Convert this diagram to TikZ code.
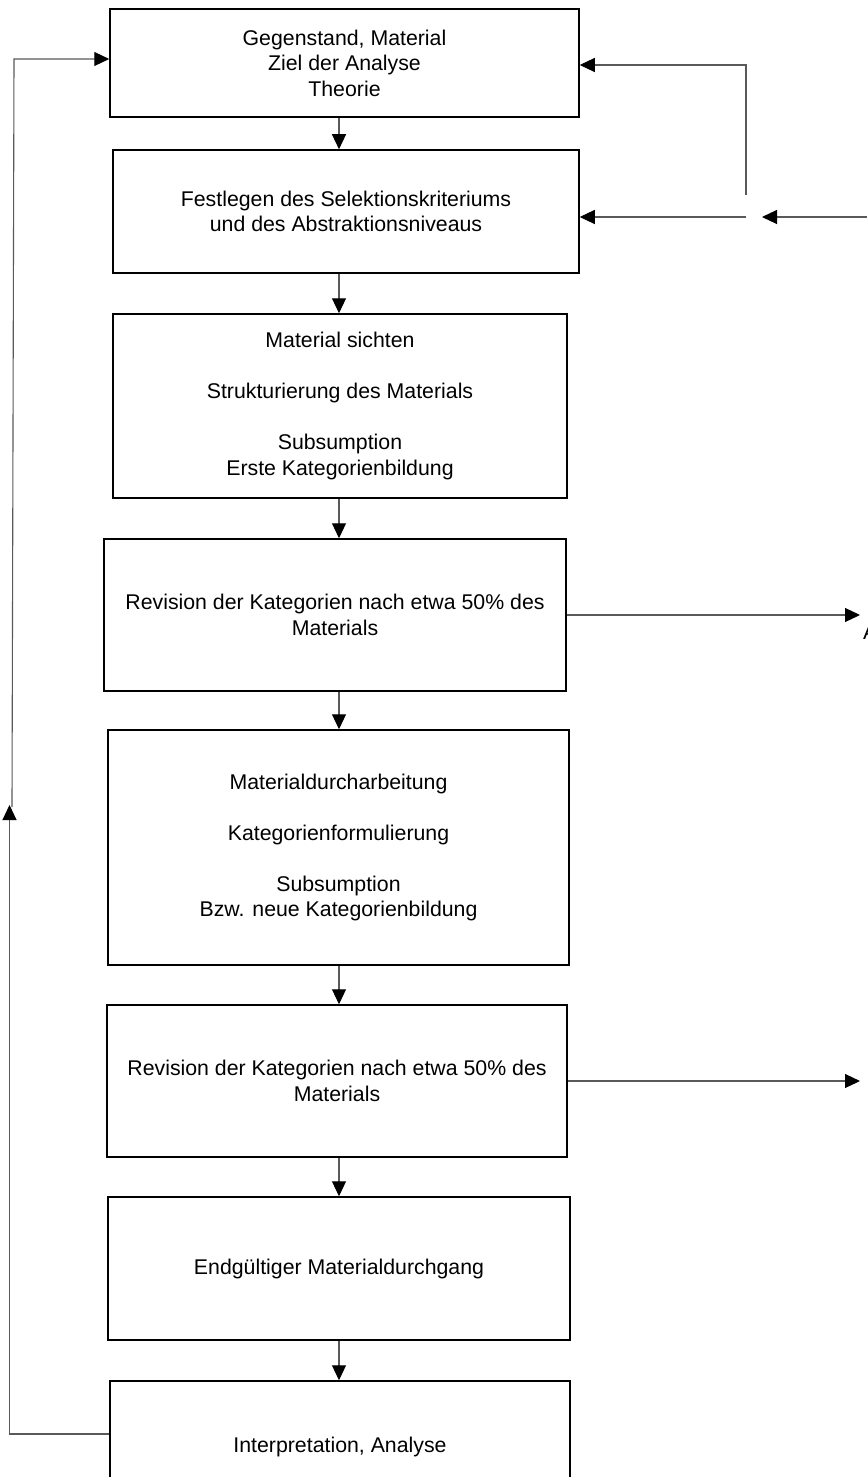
\documentclass[tikz,border=0pt]{standalone}
\usepackage{fontspec}
\setmainfont{Liberation Sans}
\usetikzlibrary{arrows.meta}
\begin{document}
\begin{tikzpicture}[x=1pt,y=-1pt,
  box/.style={draw=black, line width=1.5pt, inner sep=0pt, align=center,
              font=\fontsize{21.3}{25.5}\selectfont},
  link/.style={draw=black!65, line width=1.1pt},
  arr/.style={link, -{Triangle[length=15pt,width=14pt,color=black]}},
]
\useasboundingbox (0,0) rectangle (867,1477);
\clip (0,0) rectangle (867,1477);

% process steps
\node[box, minimum width=469pt, minimum height=108pt] (b1) at (344.5,63)
  {Gegenstand, Material\\Ziel der Analyse\\Theorie};
\node[box, minimum width=466pt, minimum height=123pt] (b2) at (346,211.5)
  {Festlegen des Selektionskriteriums\\und des Abstraktionsniveaus};
\node[box, minimum width=454pt, minimum height=184pt] (b3) at (340,406)
  {Material sichten\\[25.5pt]Strukturierung des Materials\\[25.5pt]Subsumption\\Erste Kategorienbildung};
\node[box, minimum width=462pt, minimum height=152pt] (b4) at (335,615)
  {Revision der Kategorien nach etwa 50\% des\\Materials};
\node[box, minimum width=461pt, minimum height=235pt] (b5) at (338.5,847.5)
  {Materialdurcharbeitung\\[25.5pt]Kategorienformulierung\\[25.5pt]Subsumption\\Bzw. neue Kategorienbildung};
\node[box, minimum width=460pt, minimum height=152pt] (b6) at (337,1081)
  {Revision der Kategorien nach etwa 50\% des\\Materials};
\node[box, minimum width=462pt, minimum height=143pt] (b7) at (339,1268.5)
  {Endgültiger Materialdurchgang};
\node[box, minimum width=460pt, minimum height=132pt] (b8) at (340,1447)
  {Interpretation, Analyse};

% downward flow
\coordinate (ax) at (339,0);
\draw[arr] (b1.south -| ax) -- (b2.north -| ax);
\draw[arr] (b2.south -| ax) -- (b3.north -| ax);
\draw[arr] (b3.south -| ax) -- (b4.north -| ax);
\draw[arr] (b4.south -| ax) -- (b5.north -| ax);
\draw[arr] (b5.south -| ax) -- (b6.north -| ax);
\draw[arr] (b6.south -| ax) -- (b7.north -| ax);
\draw[arr] (b7.south -| ax) -- (b8.north -| ax);

% feedback on the right
\coordinate (rt) at (746,65);
\coordinate (rb) at (746,195);
\coordinate (jn) at (746,217);
\coordinate (inR) at (867,217);
\coordinate (inTip) at (762,217);
\draw[arr] (rb) -- (rt) -- (b1.east |- rt);
\draw[arr] (jn) -- (b2.east |- jn);
\draw[arr] (inR) -- (inTip);

% outgoing arrows after each revision
\coordinate (r4) at (860,615);
\coordinate (r6) at (860,1081);
\draw[arr] (b4.east |- r4) -- (r4);
\draw[arr] (b6.east |- r6) -- (r6);
\node[anchor=base west, inner sep=0pt, font=\fontsize{21.3}{25.5}\selectfont] (cutA) at (863,639) {A};

% loop back from the interpretation to the start
\coordinate (lb) at (9.5,1434);
\coordinate (lup) at (9.5,805);
\coordinate (lmid) at (12,807);
\coordinate (ltop) at (14,59);
\draw[arr] (b8.west |- lb) -- (lb) -- (lup);
\draw[arr] (lmid) -- (ltop) -- (b1.west |- ltop);
\end{tikzpicture}
\end{document}
